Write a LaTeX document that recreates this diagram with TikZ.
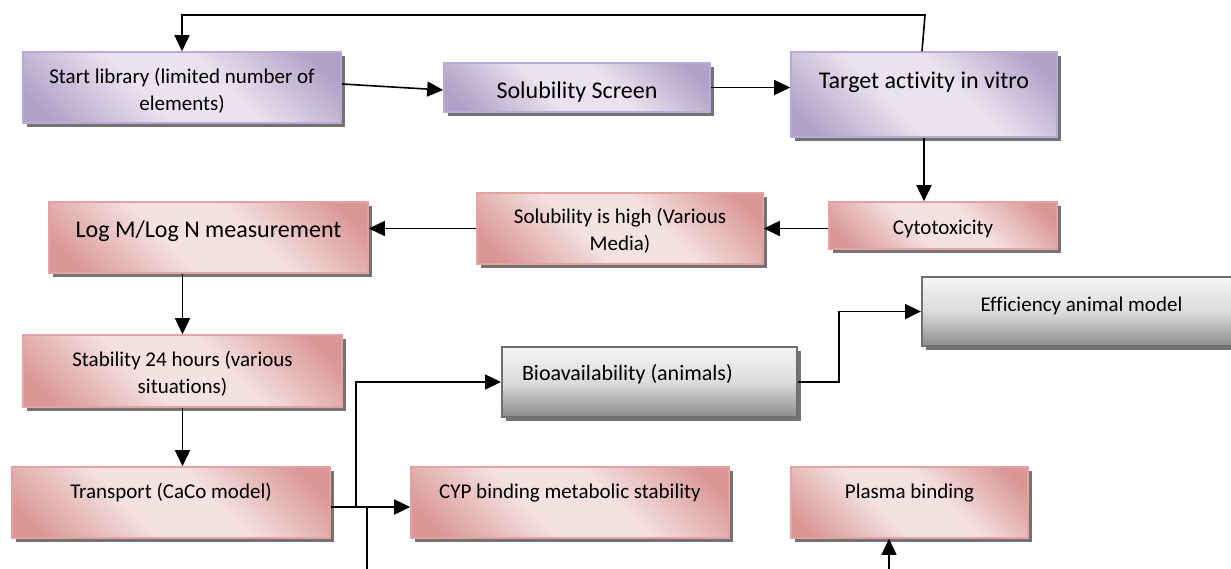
\documentclass[tikz,border=0pt]{standalone}
\usepackage{fontspec}
\setmainfont{Carlito}[Ligatures={NoCommon}]
\usetikzlibrary{shadows,arrows.meta,calc}
\definecolor{pkD}{HTML}{D99694}
\definecolor{pkL}{HTML}{F4E2E1}
\definecolor{pkB}{HTML}{E3A3A2}
\definecolor{puD}{HTML}{B1A0C7}
\definecolor{puL}{HTML}{E8E3EF}
\definecolor{puB}{HTML}{B9ABD5}
\definecolor{gyB}{HTML}{6F6F6F}
\pgfdeclarehorizontalshading{pinkdiag}{100bp}{color(0bp)=(pkD); color(20bp)=(pkD); color(42bp)=(pkL); color(58bp)=(pkL); color(80bp)=(pkD); color(100bp)=(pkD)}
\pgfdeclarehorizontalshading{purpdiag}{100bp}{color(0bp)=(puD); color(20bp)=(puD); color(42bp)=(puL); color(58bp)=(puL); color(80bp)=(puD); color(100bp)=(puD)}
\tikzset{
  box/.style={rectangle, inner sep=0pt, line width=0.8pt,
    drop shadow={shadow xshift=2pt, shadow yshift=-2pt, fill=black!55, opacity=1},
    font=\fontsize{10.5}{13.5}\selectfont, align=center, text=black},
  pinkbox/.style={box, draw=pkB, shade, shading=pinkdiag, shading angle=45},
  purpbox/.style={box, draw=puB, shade, shading=purpdiag, shading angle=45},
  greybox/.style={box, draw=gyB, line width=1pt, top color=white!96!black, bottom color=black!45, middle color=black!14},
  bigtext/.style={font=\fontsize{12}{14.5}\selectfont},
  arr/.style={line width=0.8pt, -{Triangle[length=8pt,width=7.5pt]}},
  ln/.style={line width=0.8pt}
}
\begin{document}
\begin{tikzpicture}[x=0.5pt,y=-0.5pt]
\useasboundingbox (0,0) rectangle (1231,568);
\clip (0,0) rectangle (1231,568);
% boxes
\node[purpbox, minimum width=159pt, minimum height=35.5pt, text height=22.5pt, text depth=0pt] (start) at (182,87.5) {Start library (limited number of\\elements)};
\node[purpbox, bigtext, minimum width=133pt, minimum height=24.5pt, text height=10.5pt, text depth=0pt] (sol) at (577,87.5) {Solubility Screen};
\node[purpbox, bigtext, minimum width=133pt, minimum height=42.5pt, text height=0pt, text depth=6.5pt] (target) at (924,94.5) {Target activity in vitro};
\node[pinkbox, minimum width=114pt, minimum height=23.5pt, text height=8.5pt, text depth=0pt] (cyto) at (943,225.5) {Cytotoxicity};
\node[pinkbox, minimum width=143pt, minimum height=35.5pt, text height=21.5pt, text depth=0pt] (solhigh) at (620,228.5) {Solubility is high (Various\\Media)};
\node[pinkbox, bigtext, minimum width=159.5pt, minimum height=35.5pt, text height=0pt, text depth=0pt] (logm) at (208.5,237.5) {Log M/Log N measurement};
\node[pinkbox, minimum width=159.5pt, minimum height=36pt, text height=22pt, text depth=0pt] (stab) at (182.5,371) {Stability 24 hours (various\\situations)};
\node[pinkbox, minimum width=159pt, minimum height=35.5pt, text height=0pt, text depth=4.5pt] (transport) at (171,502.5) {Transport (CaCo model)};
\node[pinkbox, minimum width=159pt, minimum height=35.5pt, text height=0pt, text depth=4.5pt] (cyp) at (570,502.5) {CYP binding metabolic stability};
\node[pinkbox, minimum width=118.5pt, minimum height=35.5pt, text height=0pt, text depth=4.5pt] (plasma) at (909.5,502.5) {Plasma binding};
\node[greybox, font=\fontsize{11}{13.5}\selectfont, align=flush left, text width=127.5pt, minimum width=147.5pt, minimum height=35pt, text height=0pt, text depth=2pt] (bio) at (649.5,382) {Bioavailability (animals)};
\node[greybox, minimum width=159.5pt, minimum height=34.5pt, text height=0pt, text depth=0pt] (eff) at (1081.5,311.5) {Efficiency animal model};
% connectors
\coordinate (fb) at (925,15);
\draw[arr] ($(target.north)+(-2,0)$) -- (fb) -| (start.north);
\draw[arr] ($(start.east)+(0,-3.5)$) -- ($(sol.west)+(0,2.5)$);
\draw[arr] (sol.east) -- (sol.east -| target.west);
\draw[arr] (target.south) -- (target.south |- cyto.north);
\coordinate (c1) at ($(cyto.west)+(0,3)$);
\draw[arr] (c1) -- (c1 -| solhigh.east);
\draw[arr] (solhigh.west) -- (solhigh.west -| logm.east);
\draw[arr] (stab.north |- logm.south) -- (stab.north);
\draw[arr] (stab.south) -- (stab.south |- transport.north);
\coordinate (t1) at ($(transport.east)+(0,4.5)$);
\draw[arr] (t1) -- (t1 -| cyp.west);
\coordinate (j1) at (356,507);
\coordinate (j2) at (367,507);
\coordinate (d1) at (367,580);
\draw[arr] (j1) |- (bio.west);
\draw[ln] (j2) -- (d1);
\coordinate (k) at (839,0);
\draw[arr] (bio.east) -- (bio.east -| k) |- (eff.west);
\coordinate (p0) at (889,580);
\draw[arr] (p0) -- (p0 |- plasma.south);
\end{tikzpicture}
\end{document}
